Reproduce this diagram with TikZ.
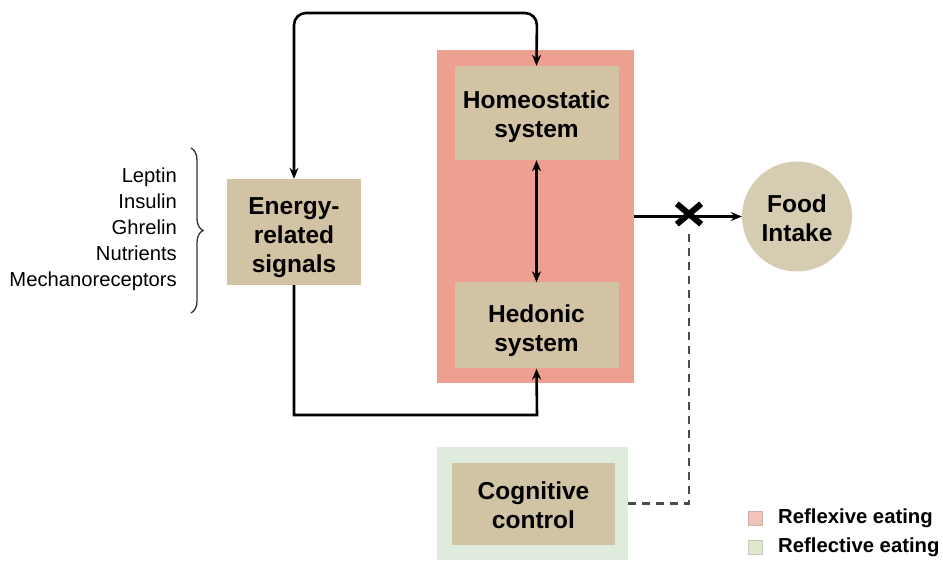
\documentclass[tikz,border=0pt]{standalone}
\usepackage{fontspec}
\setmainfont{Liberation Sans}
\usetikzlibrary{arrows.meta,decorations.pathreplacing}
\definecolor{reflexred}{HTML}{EDA08F}
\definecolor{tanbox}{HTML}{D3C3A5}
\definecolor{foodtan}{HTML}{D6CCB2}
\definecolor{reflgreen}{HTML}{DFEBDD}
\definecolor{cogtan}{HTML}{D0C4A5}
\definecolor{legred}{HTML}{F2C4BC}
\definecolor{leggreen}{HTML}{DDE8CF}
\tikzset{
  bigtext/.style={font=\fontsize{24.5}{29}\selectfont\bfseries, align=center, inner sep=0pt},
  innerbox/.style={fill=tanbox, draw=none, inner sep=0pt},
  conn/.style={line width=2.6pt, draw=black},
  tip/.style={-{Stealth[length=11pt,width=9pt]}},
  dtip/.style={{Stealth[length=11pt,width=9pt]}-{Stealth[length=11pt,width=9pt]}},
  dashconn/.style={line width=2.2pt, draw=black!70, dash pattern=on 8pt off 6pt},
  legsq/.style={minimum size=14pt, inner sep=0pt, line width=0.8pt},
  legtext/.style={font=\fontsize{20.3}{24}\selectfont\bfseries, anchor=west, inner sep=0pt}
}
\begin{document}
\begin{tikzpicture}[x=1pt,y=-1pt]
\useasboundingbox (0,0) rectangle (943,561);
% backgrounds
\node[fill=reflexred, minimum width=197pt, minimum height=333pt, inner sep=0pt] (reflexive) at (535.5,216.5) {};
\node[fill=reflgreen, minimum width=191pt, minimum height=113pt, inner sep=0pt] (reflective) at (532.5,503.5) {};
% boxes
\node[innerbox, minimum width=164pt, minimum height=94pt] (homeo) at (536.5,113) {};
\node[bigtext] (homeotext) at ([yshift=-4pt]homeo.center) {Homeostatic\\system};
\node[innerbox, minimum width=164pt, minimum height=86pt] (hedonic) at (536.5,325.5) {};
\node[bigtext] (hedonictext) at ([yshift=-5pt]hedonic.center) {Hedonic\\system};
\node[innerbox, minimum width=134pt, minimum height=106pt] (energy) at (294,232) {};
\node[bigtext] (energytext) at ([yshift=-6pt]energy.center) {Energy-\\related\\signals};
\node[fill=cogtan, inner sep=0pt, minimum width=163pt, minimum height=82pt] (cog) at (533.5,504) {};
\node[bigtext] (cogtext) at ([yshift=-1.5pt]cog.center) {Cognitive\\control};
\node[circle, fill=foodtan, inner sep=0pt, minimum size=110pt] (food) at (797,216.5) {};
\node[bigtext] (foodtext) at ([yshift=-2pt]food.center) {Food\\Intake};
% list
\node[font=\fontsize{20.2}{26}\selectfont, align=right, anchor=east, inner sep=0pt] (list) at (177,229) {Leptin\\Insulin\\Ghrelin\\Nutrients\\Mechanoreceptors};
\coordinate (bracetop) at (191,148);
\coordinate (bracebot) at (191,313);
\draw[line width=1.3pt, black!80, decorate, decoration={brace, amplitude=12pt}] (bracetop) -- (bracebot);
% connectors
\draw[conn, dtip, rounded corners=12pt] (energy.north) -- (294,13) -- (537,13) -- (homeo.north);
\draw[conn, tip] (energy.south) -- (294,415) -- (537,415) -- (hedonic.south);
\draw[conn, dtip] (homeo.south) -- (hedonic.north);
\draw[conn, tip] (reflexive.east) -- (food.west);
\node[inner sep=0pt, minimum width=24pt, minimum height=20pt] (xmark) at (689,214) {};
\draw[line width=6pt] (xmark.north west) -- (xmark.south east);
\draw[line width=6pt] (xmark.north east) -- (xmark.south west);
\draw[dashconn] (reflective.east) -| ([yshift=-6pt]xmark.south);
% legend
\node[legsq, fill=legred, draw=legred!70!gray] (legr) at (755.5,518.5) {};
\node[legsq, fill=leggreen, draw=leggreen!70!gray] (legg) at (755.5,547.5) {};
\node[legtext] (legrt) at (778,518.5) {Reflexive eating};
\node[legtext] (leggt) at (778,547.5) {Reflective eating};
\end{tikzpicture}
\end{document}
